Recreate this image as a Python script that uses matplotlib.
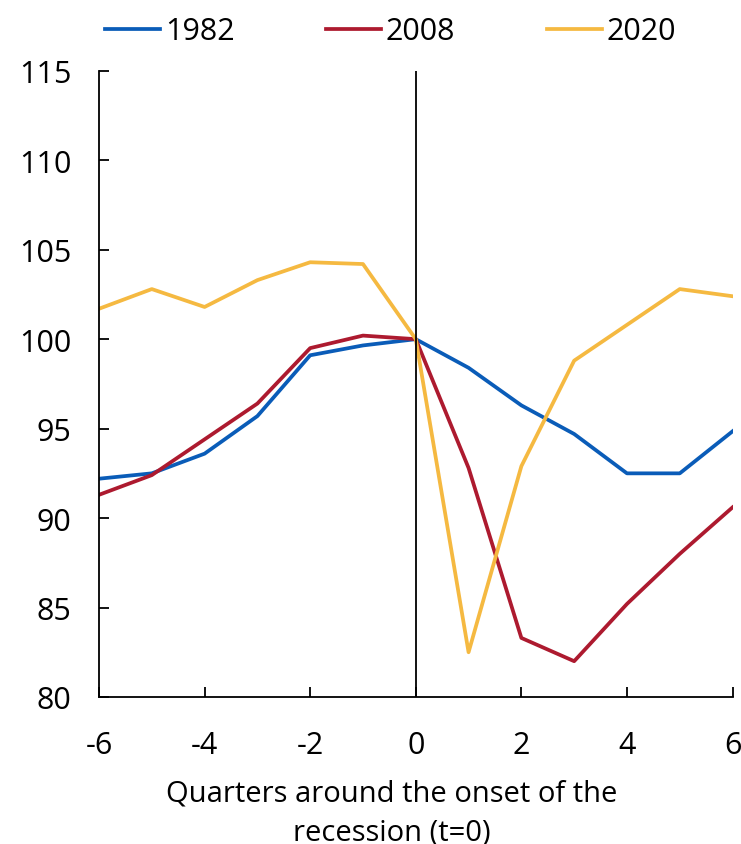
import matplotlib
matplotlib.use("Agg")
import matplotlib.pyplot as plt

plt.rcParams['font.family'] = ['Open Sans', 'DejaVu Sans']
plt.rcParams['axes.unicode_minus'] = False

quarters = [-6, -5, -4, -3, -2, -1, 0, 1, 2, 3, 4, 5, 6]
s1982 = [92.2, 92.5, 93.6, 95.7, 99.1, 99.65, 100.0, 98.4, 96.3, 94.7, 92.5, 92.5, 94.85]
s2008 = [91.3, 92.4, 94.4, 96.4, 99.5, 100.2, 100.0, 92.8, 83.3, 82.0, 85.2, 88.0, 90.6]
s2020 = [101.7, 102.8, 101.8, 103.3, 104.3, 104.2, 100.0, 82.5, 92.9, 98.8, 100.8, 102.8, 102.4]

series = [("1982", s1982, "#0a5cb8"), ("2008", s2008, "#ad1a2f"), ("2020", s2020, "#f5b941")]

fig = plt.figure(figsize=(7.41, 8.45), dpi=100)
ax = fig.add_axes([0.1336, 0.174, 0.855, 0.741])

for name, vals, col in series:
    ax.plot(quarters, vals, color=col, lw=2.7, label=name)

ax.axvline(0, color="black", lw=1.3)
ax.set_xlim(-6, 6)
ax.set_ylim(80, 115)
ax.set_xticks(range(-6, 7, 2))
ax.set_yticks(range(80, 116, 5))
ax.tick_params(direction="in", length=7, width=1.3, labelsize=22)
ax.tick_params(axis="x", pad=24)
ax.tick_params(axis="y", pad=20)
for s in ["top", "right"]:
    ax.spines[s].set_visible(False)
for s in ["left", "bottom"]:
    ax.spines[s].set_linewidth(1.3)

ax.set_xlabel("Quarters around the onset of the\nrecession (t=0)", fontsize=21, linespacing=1.45)
ax.xaxis.set_label_coords(0.462, -0.131)

fig.legend(loc="upper center", bbox_to_anchor=(0.527, 1.012), ncol=3, frameon=False,
           fontsize=22, handlelength=1.8, handletextpad=0.15, columnspacing=3.0)

fig.savefig("out.png", dpi=100)
